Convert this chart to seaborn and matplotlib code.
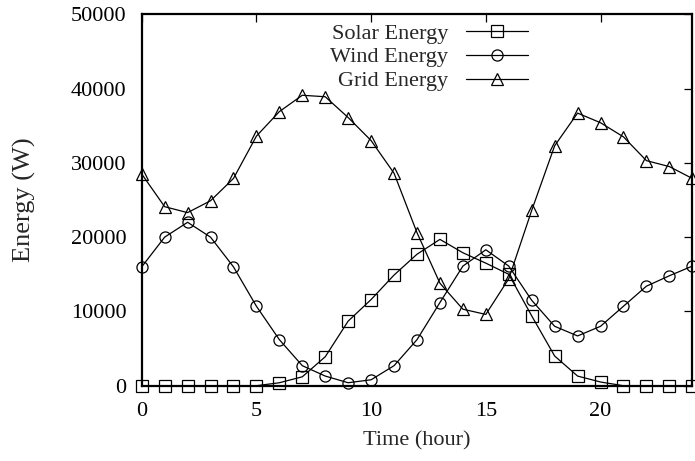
import numpy as np
import pandas as pd
import matplotlib
matplotlib.use("Agg")
import matplotlib.pyplot as plt
import seaborn as sns

hours = list(range(25))
solar = [0, 0, 0, 0, 0, 0, 400, 1200, 3900, 8700, 11600, 14900, 17700, 19700,
         17900, 16500, 15000, 9400, 4000, 1300, 500, 0, 0, 0, 0]
wind = [16000, 20000, 22000, 20000, 16000, 10700, 6200, 2700, 1300, 400, 800,
        2700, 6200, 11200, 16100, 18300, 16100, 11500, 8000, 6700, 8000, 10700,
        13400, 14800, 16100]
grid = [28500, 24100, 23300, 24900, 27900, 33600, 36900, 39100, 38900, 36100,
        33000, 28600, 20600, 13800, 10300, 9600, 14400, 23600, 32300, 36700,
        35400, 33500, 30300, 29500, 27900]

series_names = ["Solar Energy", "Wind Energy", "Grid Energy"]
markers = ["s", "o", "^"]

df = pd.DataFrame({"hour": hours, "Solar Energy": solar,
                   "Wind Energy": wind, "Grid Energy": grid})
long = df.melt(id_vars="hour", var_name="series", value_name="energy")

sns.set_theme(style="white")
plt.rcParams["font.family"] = ["Liberation Serif", "DejaVu Serif"]

fig = plt.figure(figsize=(6.95, 4.61), dpi=100)
ax = fig.add_axes([0.2039, 0.1633, 0.9961 - 0.2039, 0.969 - 0.1633])

for name, mk in zip(series_names, markers):
    sub = long[long["series"] == name]
    sns.lineplot(data=sub, x="hour", y="energy", ax=ax, color="black",
                 linewidth=0.9, marker=mk, markersize=8, markerfacecolor="none",
                 markeredgecolor="black", markeredgewidth=0.9, label=name,
                 clip_on=False, zorder=3)

ax.set_xlim(0, 24)
ax.set_ylim(0, 50000)
ax.set_xticks([0, 5, 10, 15, 20])
ax.set_yticks(range(0, 50001, 10000))
ax.tick_params(direction="in", length=6, width=0.9, colors="black",
               labelsize=16, top=True, right=True, labeltop=False,
               labelright=False)
ax.tick_params(axis="x", pad=12)
ax.tick_params(axis="y", pad=11)
for s in ax.spines.values():
    s.set_linewidth(1.6)
    s.set_color("black")
    s.set_visible(True)

ax.set_xlabel("Time (hour)", fontsize=16, labelpad=7)
ax.set_ylabel("Energy (W)", fontsize=19, labelpad=25)

ax.legend(loc="upper right", bbox_to_anchor=(528 / 695, 1 - 23 / 461),
          bbox_transform=fig.transFigure, frameon=False, markerfirst=False,
          fontsize=16, handlelength=2.8, handletextpad=0.8,
          labelspacing=0.15, borderpad=0, borderaxespad=0)

fig.savefig("out.png", dpi=100)
